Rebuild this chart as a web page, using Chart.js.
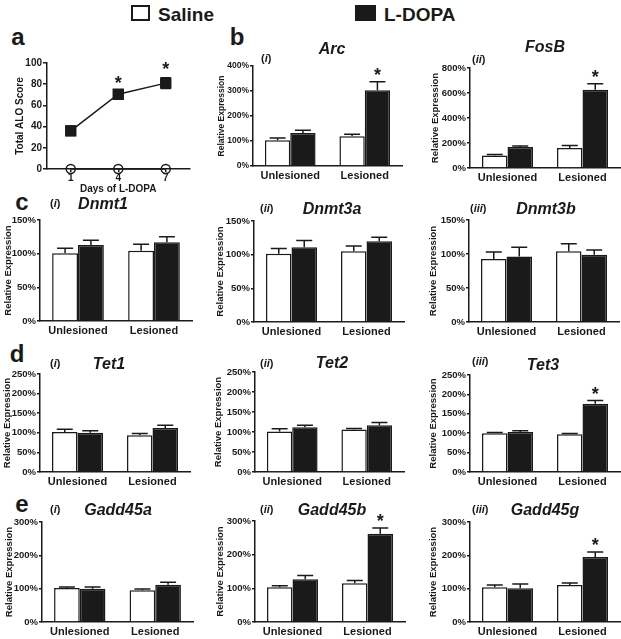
<!DOCTYPE html>
<html>
<head>
<meta charset="utf-8">
<script src="https://cdn.jsdelivr.net/npm/chart.js@4.4.1/dist/chart.umd.min.js"></script>
<style>
body{margin:0;background:#fff;width:621px;height:639px;position:relative;overflow:hidden;font-family:"Liberation Sans",Arial,sans-serif;color:#1a1a1a;}
canvas{position:absolute;}
.t{position:absolute;font-weight:bold;white-space:nowrap;line-height:1;}
.box{position:absolute;box-sizing:border-box;}
</style>
</head>
<body>
<div class="box" style="left:131px;top:5px;width:19px;height:16px;border:2px solid #1a1a1a;background:#fff"></div>
<div class="box" style="left:355px;top:5px;width:21px;height:16px;background:#1a1a1a"></div>
<script>
// panel a: dyskinesia score
const days = ['1', '4', '7'];
const aloLdopa = [36, 70.5, 81];
const aloLdopaErr = [4.5, 2, 5];
const aloSaline = [0, 0, 0];
const aloStars = [false, true, true];

// gene panels (Unlesioned, Lesioned)
const groups = ['Unlesioned', 'Lesioned'];
const genes = ['Arc', 'FosB', 'Dnmt1', 'Dnmt3a', 'Dnmt3b', 'Tet1', 'Tet2', 'Tet3', 'Gadd45a', 'Gadd45b', 'Gadd45g'];
const salineMeans = [[103, 119], [101, 160], [100.5, 104.5], [101.5, 105], [92.5, 104], [102, 94], [101, 106], [100, 97], [102, 95], [103, 115], [104, 111]];
const salineErrs = [[9, 8], [8, 20], [7.5, 9.5], [7.5, 8], [10.5, 11], [7, 4], [7, 3], [2, 2], [3, 4], [5, 8], [7, 6]];
const ldopaMeans = [[132, 303], [168, 627], [113, 117], [111, 120], [96.5, 99], [100, 112], [112, 117], [103, 176], [100, 112], [127, 262], [101, 195]];
const ldopaErrs = [[11, 34], [8, 48], [7, 8], [10, 6], [13.5, 7], [5, 7], [5, 7], [3, 8], [5, 7], [11, 17], [13, 15]];
const ldopaStars = [[false, true], [false, true], [false, false], [false, false], [false, false], [false, false], [false, false], [false, true], [false, false], [false, true], [false, true]];
const yMax = [400, 800, 150, 150, 150, 250, 250, 250, 300, 300, 300];
const yStep = [100, 200, 50, 50, 50, 50, 50, 50, 100, 100, 100];

// where each panel sits: axis left, top, right, bottom, y-title room, font size
const boxes = [
  [253, 66, 402, 166, 36, 8.5],
  [470, 68, 620, 168, 40, 9.5],
  [40, 220, 192, 321, 37, 9.5],
  [254, 221, 404, 322, 39, 9.5],
  [469, 220, 619, 322, 41, 9.5],
  [40, 374, 190, 472, 38, 9.5],
  [255, 372, 404, 472, 42, 9.5],
  [470, 375, 620, 472, 42, 9.5],
  [42, 522, 193, 622, 38, 9.5],
  [255, 521, 405, 622, 40, 9.5],
  [470, 522, 620, 622, 42, 9.5]
];
const subLabels = ['i', 'ii', 'i', 'ii', 'iii', 'i', 'ii', 'iii', 'i', 'ii', 'iii'];
const titlePos = [[332, 55, 261, 62], [545, 53, 472, 63], [103, 210, 50, 207], [332, 215, 260, 212], [546, 215, 470, 212],
  [109, 370, 50, 367], [332, 369, 260, 367], [543, 371, 472, 365], [118, 516, 50, 513], [332, 516, 260, 513], [545, 516, 472, 513]];

const INK = '#1a1a1a';
const FAM = '"Liberation Sans", Arial, sans-serif';
Chart.defaults.font.family = FAM;
Chart.defaults.color = INK;

function label(html, x, base, size, align, italic) {
  const d = document.createElement('div');
  d.className = 't';
  d.innerHTML = html;
  d.style.fontSize = size + 'px';
  d.style.top = (base - 0.846 * size) + 'px';
  d.style.left = x + 'px';
  if (align === 'center') d.style.transform = 'translateX(-50%)';
  if (italic) d.style.fontStyle = 'italic';
  document.body.appendChild(d);
}

label('Saline', 158, 21, 19);
label('L-DOPA', 384, 21, 19);
label('a', 18, 45, 24, 'center');
label('b', 237, 45, 24, 'center');
label('c', 22, 210, 24, 'center');
label('d', 17, 362, 24, 'center');
label('e', 22, 512, 24, 'center');

// error bars + asterisks
const errorBars = {
  id: 'errorBars',
  afterDatasetsDraw(chart) {
    const ctx = chart.ctx;
    const y = chart.scales.y;
    ctx.save();
    ctx.strokeStyle = INK;
    ctx.lineWidth = 1.5;
    chart.data.datasets.forEach((ds, di) => {
      if (!ds.err) return;
      chart.getDatasetMeta(di).data.forEach((el, i) => {
        const v = ds.data[i], e = ds.err[i];
        const top = y.getPixelForValue(v + e);
        const bot = y.getPixelForValue(ds.both ? v - e : v);
        const cap = ds.cap;
        ctx.beginPath();
        ctx.moveTo(el.x, bot); ctx.lineTo(el.x, top);
        ctx.moveTo(el.x - cap, top); ctx.lineTo(el.x + cap, top);
        if (ds.both) { ctx.moveTo(el.x - cap, bot); ctx.lineTo(el.x + cap, bot); }
        ctx.stroke();
        if (ds.stars && ds.stars[i]) {
          ctx.fillStyle = INK;
          ctx.font = 'bold 18px ' + FAM;
          ctx.textAlign = 'center';
          ctx.textBaseline = 'alphabetic';
          ctx.fillText('*', el.x, top + ds.starShift);
        }
      });
    });
    ctx.restore();
  }
};

function makeCanvas(x, y, w, h) {
  const cv = document.createElement('canvas');
  cv.width = w; cv.height = h;
  cv.style.left = x + 'px'; cv.style.top = y + 'px';
  document.body.appendChild(cv);
  return cv;
}

// panel a
(function () {
  const L = 47, T = 63, R = 192, B = 169, YW = 33, PT = 12, PR = 6, PB = 26;
  const cv = makeCanvas(L - YW, T - PT, R - L + YW + PR, B - T + PT + PB);
  new Chart(cv, {
    type: 'line',
    data: {
      labels: days,
      datasets: [
        { label: 'L-DOPA', data: aloLdopa, err: aloLdopaErr, both: true, cap: 5, stars: aloStars, starShift: -3,
          borderColor: INK, backgroundColor: INK, borderWidth: 1.5, pointStyle: 'rect', pointRadius: 7, clip: false },
        { label: 'Saline', data: aloSaline, borderColor: INK, backgroundColor: 'rgba(0,0,0,0)', borderWidth: 1.5,
          pointStyle: 'circle', pointRadius: 4.5, pointBorderWidth: 1.5, clip: false }
      ]
    },
    options: {
      responsive: false, animation: false, events: [],
      layout: { padding: { top: PT, right: PR, left: 0, bottom: 0 } },
      plugins: { legend: { display: false }, tooltip: { enabled: false } },
      scales: {
        x: {
          offset: true,
          grid: { drawOnChartArea: false, drawTicks: true, tickLength: 3, color: INK, lineWidth: 1.5 },
          border: { color: INK, width: 1.5 },
          ticks: { font: { weight: 'bold', size: 10 }, padding: 0, color: INK },
          title: { display: true, text: 'Days of L-DOPA', font: { weight: 'bold', size: 10 }, padding: 0, color: INK },
          afterFit: s => { s.height = PB; }
        },
        y: {
          min: 0, max: 100,
          grid: { drawOnChartArea: false, drawTicks: true, tickLength: 4, color: INK, lineWidth: 1.5 },
          border: { color: INK, width: 1.5 },
          ticks: { stepSize: 20, font: { weight: 'bold', size: 10 }, padding: 1, color: INK },
          title: { display: true, text: 'Total ALO Score', font: { weight: 'bold', size: 10 }, padding: 0, color: INK },
          afterFit: s => { s.width = YW; }
        }
      }
    },
    plugins: [errorBars]
  });
})();

// gene panels
genes.forEach((g, i) => {
  const [L, T, R, B, YW, fs] = boxes[i];
  const PT = 12, PR = 6, PB = 22;
  const cv = makeCanvas(L - YW, T - PT, R - L + YW + PR, B - T + PT + PB);
  new Chart(cv, {
    type: 'bar',
    data: {
      labels: groups,
      datasets: [
        { label: 'Saline', data: salineMeans[i], err: salineErrs[i], cap: 8,
          backgroundColor: '#fff', borderColor: INK, borderWidth: 1.5, categoryPercentage: 0.68, barPercentage: 1 },
        { label: 'L-DOPA', data: ldopaMeans[i], err: ldopaErrs[i], cap: 8, stars: ldopaStars[i], starShift: -1,
          backgroundColor: INK, borderColor: INK, borderWidth: 1.5, categoryPercentage: 0.68, barPercentage: 1 }
      ]
    },
    options: {
      responsive: false, animation: false, events: [],
      layout: { padding: { top: PT, right: PR, left: 0, bottom: 0 } },
      plugins: { legend: { display: false }, tooltip: { enabled: false } },
      scales: {
        x: {
          grid: { display: false, drawTicks: false },
          border: { color: INK, width: 1.5 },
          ticks: { font: { weight: 'bold', size: 11 }, padding: 3, color: INK, maxRotation: 0 },
          afterFit: s => { s.height = PB; }
        },
        y: {
          min: 0, max: yMax[i],
          grid: { drawOnChartArea: false, drawTicks: true, tickLength: 3, color: INK, lineWidth: 1.5 },
          border: { color: INK, width: 1.5 },
          ticks: { stepSize: yStep[i], font: { weight: 'bold', size: fs }, padding: 1, color: INK, callback: v => v + '%' },
          title: { display: true, text: 'Relative Expression', font: { weight: 'bold', size: fs }, padding: 0, color: INK },
          afterFit: s => { s.width = YW; }
        }
      }
    },
    plugins: [errorBars]
  });
  const [tx, tb, sx, sb] = titlePos[i];
  label(g, tx, tb, 16, 'center', true);
  label('(<i>' + subLabels[i] + '</i>)', sx, sb, 11);
});
</script>
</body>
</html>
